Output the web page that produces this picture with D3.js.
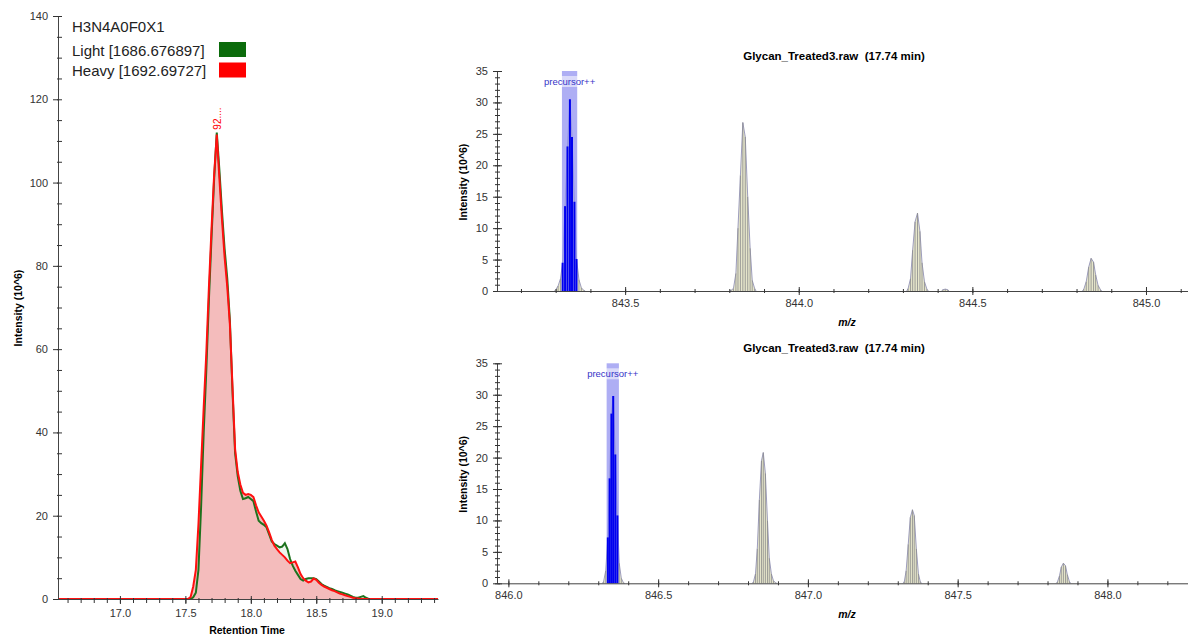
<!DOCTYPE html>
<html>
<head>
<meta charset="utf-8">
<script src="https://cdn.jsdelivr.net/npm/d3@7"></script>
<style>
    body { margin: 0; background: #fff; }
    svg { display: block; font-family: "Liberation Sans", Arial, sans-serif; }
</style>
</head>
<body>
<div id="chart"></div>
<script>
// ---- extracted ion chromatogram (retention time in min, intensity in 10^6) ----
const rtValues = [16.53,
    17.50, 17.52, 17.54, 17.56, 17.58, 17.60, 17.62, 17.64, 17.66, 17.68,
    17.70, 17.72, 17.74, 17.76, 17.78, 17.80, 17.82, 17.84, 17.86, 17.88,
    17.90, 17.92, 17.94, 17.96, 17.98, 18.00, 18.02, 18.04, 18.06, 18.08,
    18.10, 18.12, 18.14, 18.16, 18.18, 18.20, 18.22, 18.24, 18.26, 18.28,
    18.30, 18.32, 18.34, 18.36, 18.38, 18.40, 18.42, 18.44, 18.46, 18.48,
    18.50, 18.52, 18.54, 18.56, 18.58, 18.60, 18.62, 18.64, 18.66, 18.68,
    18.70, 18.72, 18.74, 18.76, 18.78, 18.80, 18.82, 18.84, 18.86, 18.88,
    18.90, 18.92, 18.94,
    19.43];
const lightValues = [0,
    0, 0, 0, 0.4, 1.5, 7, 22, 40, 55, 72,
    87, 101, 112, 103, 93, 84, 77, 67, 50, 35,
    29.5, 26, 24, 24.2, 24.5, 24, 23.5, 21, 18.8, 18.2,
    17.8, 17.2, 15.5, 13.8, 13.2, 12.8, 12.4, 12.6, 13.4, 12.0,
    9.6, 8.0, 6.8, 5.8, 4.8, 4.4, 4.8, 5.0, 5.0, 5.0,
    4.8, 4.2, 3.6, 3.2, 2.9, 2.6, 2.4, 2.1, 1.9, 1.7,
    1.5, 1.3, 1.1, 0.8, 0.5, 0.3, 0.3, 0.5, 0.7, 0.3,
    0, 0, 0,
    0];
const heavyValues = [0,
    0, 0, 0.5, 3, 7, 18, 32, 46, 59, 75,
    89, 102, 111.5, 101, 91, 82, 75, 66, 51, 36,
    30.5, 27.5, 25.5, 25, 25.2, 25, 24.5, 22.5, 20.8, 19.8,
    18.8, 17.6, 16, 14.2, 12.8, 12, 11.2, 10.6, 10, 9.2,
    8.6, 8.8, 9.0, 7.6, 6.0, 5.0, 4.4, 4.0, 4.2, 4.9,
    4.6, 3.9, 3.4, 3.0, 2.7, 2.4, 2.1, 1.9, 1.6, 1.3,
    1.1, 0.9, 0.7, 0.5, 0.3, 0.2, 0.1, 0, 0, 0,
    0, 0, 0,
    0];
const rtMajorTicks = [17.0, 17.5, 18.0, 18.5, 19.0];
const chromMajorTicks = [0, 20, 40, 60, 80, 100, 120, 140];
const chromTitle = "H3N4A0F0X1";
const seriesNames = ["Light [1686.676897]", "Heavy [1692.69727]"];
const seriesColors = ["#0b6b0b", "#ff0000"];
const peakLabel = "92....";

// ---- MS1 spectra at 17.74 min (m/z, intensity in 10^6) ----
const lightMz = [
    843.300, 843.307, 843.314, 843.320, 843.327, 843.334, 843.341, 843.347, 843.354, 843.360, 843.367, 843.374, 843.381,
    843.805, 843.812, 843.819, 843.825, 843.832, 843.839, 843.846, 843.853, 843.860, 843.866, 843.873,
    844.315, 844.322, 844.328, 844.335, 844.342, 844.349, 844.355, 844.362, 844.369,
    844.415, 844.422, 844.429,
    844.821, 844.828, 844.835, 844.842, 844.849, 844.855, 844.862, 844.869];
const lightAbund = [
    0.2, 0.8, 2.0, 4.5, 13.5, 23, 30.5, 24.5, 14.2, 5.1, 1.8, 0.5, 0.1,
    0.1, 0.4, 2.8, 10, 18.4, 26.8, 24.5, 15, 6.8, 1.7, 0.4,
    0.4, 2.0, 6.5, 11, 12.4, 9.5, 4.5, 1.5, 0.3,
    0.2, 0.3, 0.2,
    0.3, 1.5, 3.8, 5.2, 4.6, 2.6, 0.9, 0.2];
const heavyMz = [
    846.318, 846.325, 846.332, 846.338, 846.344, 846.350, 846.357, 846.364, 846.370, 846.377, 846.384,
    846.818, 846.825, 846.831, 846.838, 846.845, 846.851, 846.858, 846.865, 846.871, 846.878, 846.885, 846.892,
    847.322, 847.328, 847.335, 847.342, 847.349, 847.355, 847.362, 847.369, 847.375,
    847.833, 847.840, 847.846, 847.853, 847.860, 847.866, 847.873];
const heavyAbund = [
    0.3, 2.0, 7.3, 16.7, 27, 29.8, 20.5, 10.8, 3.2, 0.8, 0.1,
    0.2, 1.5, 5.5, 13.3, 19.5, 20.8, 17.5, 10, 4, 1.5, 0.4, 0.1,
    0.3, 2.0, 6.2, 10.5, 11.7, 10.8, 5.5, 1.5, 0.3,
    0.2, 1.2, 2.6, 3.2, 2.8, 1.4, 0.3];
const lightWindow = [843.318, 843.362];
const heavyWindow = [846.328, 846.369];
const lightMzTicks = [843.5, 844.0, 844.5, 845.0];
const heavyMzTicks = [846.0, 846.5, 847.0, 847.5, 848.0];
const spectrumMajorTicks = [0, 5, 10, 15, 20, 25, 30, 35];
const spectrumTitle = "Glycan_Treated3.raw  (17.74 min)";
const windowLabel = "precursor++";

const svg = d3.select("#chart").append("svg")
    .attr("width", 1188)
    .attr("height", 636);

// small helper: a set of tick marks without labels or domain line
function tickMarks(g, axisFn, scale, values, size) {
    g.append("g")
        .call(axisFn(scale).tickValues(values).tickSize(size).tickFormat(""))
        .call(s => s.select(".domain").remove())
        .selectAll("line").attr("stroke", "#333");
}

function styleLabels(sel, size) {
    sel.selectAll("text")
        .attr("fill", "#333")
        .style("font-size", size)
        .style("font-family", "'Liberation Sans', Arial, sans-serif");
    sel.selectAll("line").attr("stroke", "#333");
    sel.select(".domain").attr("stroke", "#444");
}

class ChromatogramVis {
    constructor(svg) {
        this.svg = svg;
        this.initVis();
    }

    initVis() {
        let vis = this;
        vis.x = d3.scaleLinear().domain([16.527, 19.43]).range([58, 438]);
        vis.y = d3.scaleLinear().domain([0, 140]).range([599, 16]);

        vis.data = rtValues.map((rt, i) => ({ rt: rt, light: lightValues[i], heavy: heavyValues[i] }));

        let g = vis.svg.append("g").attr("class", "chromatogram");

        // areas
        g.append("path").datum(vis.data)
            .attr("fill", "rgba(0,128,0,0.07)")
            .attr("d", d3.area().x(d => vis.x(d.rt)).y0(vis.y(0)).y1(d => vis.y(d.light)));
        g.append("path").datum(vis.data)
            .attr("fill", "#f4bcbc")
            .attr("d", d3.area().x(d => vis.x(d.rt)).y0(vis.y(0)).y1(d => vis.y(d.heavy)));

        // lines
        g.append("path").datum(vis.data)
            .attr("fill", "none").attr("stroke", "#1d721d").attr("stroke-width", 2)
            .attr("d", d3.line().x(d => vis.x(d.rt)).y(d => vis.y(d.light)));
        g.append("path").datum(vis.data)
            .attr("fill", "none").attr("stroke", "#ff1010").attr("stroke-width", 2)
            .attr("d", d3.line().x(d => vis.x(d.rt)).y(d => vis.y(d.heavy)));

        // axes
        let yAxis = g.append("g").attr("transform", "translate(58,0)")
            .call(d3.axisLeft(vis.y).tickValues(chromMajorTicks).tickSizeInner(5).tickSizeOuter(0).tickPadding(5));
        styleLabels(yAxis, "11px");
        let yMinor = d3.range(0, 141, 5);
        let yg = g.append("g").attr("transform", "translate(58,0)");
        tickMarks(yg, d3.axisRight, vis.y, yMinor, 4);
        tickMarks(yg, d3.axisLeft, vis.y, yMinor, 1);

        let xAxis = g.append("g").attr("transform", "translate(0,599)")
            .call(d3.axisBottom(vis.x).tickValues(rtMajorTicks).tickSizeInner(5).tickSizeOuter(0).tickPadding(5)
                .tickFormat(d3.format(".1f")));
        styleLabels(xAxis, "11px");
        let xMinor = d3.range(166, 195).map(d => d / 10);
        let xg = g.append("g").attr("transform", "translate(0,599)");
        tickMarks(xg, d3.axisBottom, vis.x, xMinor, 4);
        tickMarks(xg, d3.axisTop, vis.x, xMinor, 1);
        tickMarks(xg, d3.axisTop, vis.x, rtMajorTicks, 3);

        // axis titles
        g.append("text")
            .attr("transform", "translate(22,308) rotate(-90)")
            .attr("text-anchor", "middle")
            .style("font-size", "10.5px").style("font-weight", "bold")
            .text("Intensity (10^6)");
        g.append("text")
            .attr("x", 247).attr("y", 634)
            .attr("text-anchor", "middle")
            .style("font-size", "10.5px").style("font-weight", "bold")
            .text("Retention Time");

        // apex label
        let apex = vis.data.reduce((a, b) => (b.heavy > a.heavy ? b : a));
        g.append("text")
            .attr("transform", `translate(${vis.x(apex.rt) + 4},${vis.y(apex.heavy) - 5}) rotate(-90)`)
            .attr("fill", "#ff0000")
            .style("font-size", "10px")
            .text(peakLabel);

        // title + legend
        g.append("text").attr("x", 72).attr("y", 32)
            .style("font-size", "15px").attr("fill", "#222").text(chromTitle);
        seriesNames.forEach((name, i) => {
            g.append("text").attr("x", 72).attr("y", 56 + i * 19.5)
                .style("font-size", "15px").attr("fill", "#222").text(name);
            g.append("rect").attr("x", 219).attr("y", 42 + i * 20.5)
                .attr("width", 27).attr("height", 15)
                .attr("fill", seriesColors[i]);
        });
    }
}

class SpectrumVis {
    constructor(svg, mz, abund, mzDomain, top, window, majorTicks) {
        this.svg = svg;
        this.mz = mz;
        this.abund = abund;
        this.mzDomain = mzDomain;
        this.top = top;
        this.window = window;
        this.majorTicks = majorTicks;
        this.initVis();
    }

    initVis() {
        let vis = this;
        vis.x = d3.scaleLinear().domain(vis.mzDomain).range([497, 1188]);
        vis.y = d3.scaleLinear().domain([0, 35]).range([vis.top + 220, vis.top]);
        let y0 = vis.y(0);

        let g = vis.svg.append("g");

        // group profile points into isotope peaks
        let groups = [];
        vis.mz.forEach((m, i) => {
            let last = groups.length ? groups[groups.length - 1] : null;
            if (!last || m - last[last.length - 1].mz > 0.02) groups.push([]);
            groups[groups.length - 1].push({ mz: m, v: vis.abund[i] });
        });

        let area = d3.area().x(d => vis.x(d.mz)).y0(y0).y1(d => vis.y(d.v));
        let line = d3.line().x(d => vis.x(d.mz)).y(d => vis.y(d.v));
        groups.forEach(grp => {
            let pts = [{ mz: grp[0].mz - 0.004, v: 0 }, ...grp, { mz: grp[grp.length - 1].mz + 0.004, v: 0 }];
            g.append("path").datum(pts).attr("fill", "#e6e6cb").attr("d", area);
            g.append("path").datum(pts).attr("fill", "none")
                .attr("stroke", "#9d9dbd").attr("stroke-width", 1).attr("d", line);
        });

        // precursor isolation window
        let wx0 = vis.x(vis.window[0]), wx1 = vis.x(vis.window[1]);
        g.append("rect")
            .attr("x", wx0).attr("y", vis.y(35))
            .attr("width", wx1 - wx0).attr("height", y0 - vis.y(35))
            .attr("fill", "#8f8ff0").attr("fill-opacity", 0.72);

        // profile sticks
        let pts = vis.mz.map((m, i) => ({ mz: m, v: vis.abund[i] }));
        g.selectAll(".stick").data(pts).enter().append("line")
            .attr("class", "stick")
            .attr("x1", d => vis.x(d.mz)).attr("x2", d => vis.x(d.mz))
            .attr("y1", y0).attr("y2", d => vis.y(d.v))
            .attr("stroke", d => (d.mz >= vis.window[0] && d.mz <= vis.window[1]) ? "#0000f0" : "#8a8a8a")
            .attr("stroke-width", d => (d.mz >= vis.window[0] && d.mz <= vis.window[1]) ? 2 : 0.8);

        // window label
        let cx = (wx0 + wx1) / 2;
        g.append("rect")
            .attr("x", cx - 26).attr("y", vis.y(35) + 5)
            .attr("width", 52).attr("height", 11)
            .attr("fill", "#fff").attr("fill-opacity", 0.55);
        g.append("text")
            .attr("x", cx).attr("y", vis.y(35) + 14)
            .attr("text-anchor", "middle")
            .attr("fill", "#3535c8")
            .style("font-size", "9.5px")
            .text(windowLabel);

        // axes
        let yAxis = g.append("g").attr("transform", "translate(497,0)")
            .call(d3.axisLeft(vis.y).tickValues(spectrumMajorTicks).tickSizeInner(4).tickSizeOuter(0).tickPadding(5));
        styleLabels(yAxis, "11px");
        let yMinor = d3.range(0, 36, 1);
        let yg = g.append("g").attr("transform", "translate(497,0)");
        tickMarks(yg, d3.axisRight, vis.y, spectrumMajorTicks, 5);
        tickMarks(yg, d3.axisRight, vis.y, yMinor, 3);
        tickMarks(yg, d3.axisLeft, vis.y, yMinor, 2);

        let xAxis = g.append("g").attr("transform", `translate(0,${y0})`)
            .call(d3.axisBottom(vis.x).tickValues(vis.majorTicks).tickSizeInner(4).tickSizeOuter(0).tickPadding(4)
                .tickFormat(d3.format(".1f")));
        styleLabels(xAxis, "11px");
        let lo = Math.ceil(vis.mzDomain[0] * 10), hi = Math.floor(vis.mzDomain[1] * 10);
        let xMinor = d3.range(lo, hi + 1).map(d => d / 10);
        let xg = g.append("g").attr("transform", `translate(0,${y0})`);
        tickMarks(xg, d3.axisBottom, vis.x, xMinor, 2);
        tickMarks(xg, d3.axisTop, vis.x, xMinor, 2);
        tickMarks(xg, d3.axisTop, vis.x, vis.majorTicks, 4);

        // titles
        g.append("text")
            .attr("x", 834).attr("y", vis.top - 11)
            .attr("text-anchor", "middle")
            .style("font-size", "11.5px").style("font-weight", "bold")
            .style("white-space", "pre")
            .text(spectrumTitle);
        g.append("text")
            .attr("transform", `translate(467,${vis.top + 111}) rotate(-90)`)
            .attr("text-anchor", "middle")
            .style("font-size", "10.5px").style("font-weight", "bold")
            .text("Intensity (10^6)");
        g.append("text")
            .attr("x", 847).attr("y", y0 + 35)
            .attr("text-anchor", "middle")
            .style("font-size", "10.5px").style("font-weight", "bold").style("font-style", "italic")
            .text("m/z");
    }
}

new ChromatogramVis(svg);
new SpectrumVis(svg, lightMz, lightAbund, [843.131, 845.121], 71, lightWindow, lightMzTicks);
new SpectrumVis(svg, heavyMz, heavyAbund, [845.962, 848.269], 363.3, heavyWindow, heavyMzTicks);
</script>
</body>
</html>
